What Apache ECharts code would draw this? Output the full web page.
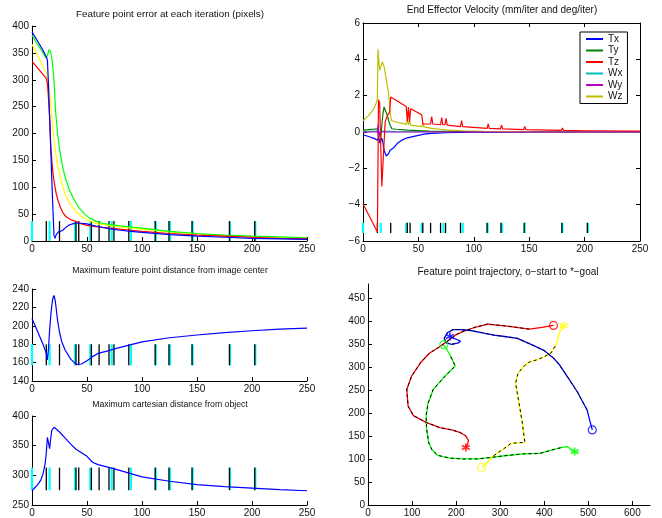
<!DOCTYPE html>
<html><head><meta charset="utf-8">
<script src="https://cdn.jsdelivr.net/npm/echarts@6/dist/echarts.min.js"></script>
<style>html,body{margin:0;padding:0;background:#fff}#c{width:662px;height:518px}</style>
</head><body><div id="c"></div>
<script>
// ---------- Panel 1: feature point error (pixels) per iteration ----------
const errBlue = [[0,389],[5,372],[10,355],[13,342],[14,337],[15,290],[16,230],[17,175],[18,115],[19,60],[20,10],[21,5],[22,12],[24,17],[26,18],[28,20],[30,24],[33,29],[37,32],[40,33],[45,33],[50,32],[55,29],[60,27],[70,23],[80,20],[90,18],[100,16],[125,12],[150,9],[175,7],[200,5],[225,4],[250,3]];
const errGreen = [[0,383],[5,366],[10,350],[13,340],[14,345],[15.5,356],[17,352],[18.5,333],[20,300],[21.5,240],[23,205],[25,172],[28,136],[31,113],[34,95],[38,78],[43,61],[48,50],[52,43],[58,37],[64,33],[70,31],[80,28],[90,26],[100,24],[125,18],[150,14],[175,11],[200,9],[225,7.5],[250,6]];
const errRed = [[0,334],[5,322],[10,310],[13,302],[14,293],[15,265],[16,232],[17,178],[18,150],[19,127],[20,112],[22,88],[24,73],[26,62],[28,53],[31,45],[35,40],[40,36],[45,32],[50,29],[60,26],[70,24],[80,22],[90,20],[100,18],[125,14],[150,11],[175,9],[200,7],[225,5],[250,4]];
const errYellow = [[0,366],[5,345],[10,325],[13,312],[14,305],[15,290],[16,277],[18,232],[20,190],[22,157],[24,133],[27,108],[30,88],[35,68],[40,55],[45,46],[50,39],[55,35],[60,32],[70,29],[80,26],[90,24],[100,22],[125,17],[150,13],[175,10],[200,8],[225,6.5],[250,5]];

// ---------- Panel 2: end effector velocity ----------
const velTx = [[0,-0.15],[5,-0.25],[10,-0.35],[13,-0.45],[14,-0.3],[15,-0.6],[16,-0.7],[17,-0.35],[18,-0.6],[19,-1.0],[21,-1.32],[23,-1.2],[24.5,-1.0],[25.5,-1.1],[28,-0.85],[31,-0.62],[35,-0.45],[40,-0.32],[46,-0.24],[55,-0.12],[62,-0.08],[75,-0.04],[100,-0.01],[250,0]];
const velTy = [[0,0.1],[5,0.13],[10,0.16],[13,0.18],[14,-0.3],[15,-0.6],[16,-0.4],[17,0.4],[18,1.0],[19,1.38],[20,1.3],[22,0.9],[24,0.45],[26,0.18],[30,0.15],[40,0.1],[60,0.05],[80,0.03],[120,0.01],[250,0]];
const velTz = [[0,-3.95],[13,-5.5],[14,1.78],[15,1.6],[17,-3.0],[19,-0.6],[20,0.55],[22,0.9],[24,1.1],[25,1.93],[39,1.4],[40,0.6],[41,1.38],[42,0.55],[43,1.28],[53,0.95],[54,0.45],[61,0.44],[62,0.85],[63,0.44],[70,0.4],[71,0.8],[72,0.4],[74,0.4],[75,0.75],[76,0.38],[88,0.3],[89,0.62],[90,0.3],[112,0.2],[113,0.45],[114,0.2],[124,0.17],[125,0.38],[126,0.17],[145,0.13],[146,0.3],[147,0.13],[179,0.09],[180,0.22],[181,0.09],[202,0.07],[203,0.18],[204,0.07],[250,0.05]];
const velWx = [[0,0.02],[13,0.05],[14,-0.1],[16,0.05],[30,0.02],[250,0]];
const velWy = [[0,0],[13,0],[13.5,0.4],[14.5,-0.3],[15,0],[250,0]];
const velWz = [[0,0.62],[5,0.9],[10,1.3],[12,1.6],[13,1.8],[13.5,4.55],[15,3.4],[16,3.5],[17.5,3.85],[19,3.6],[21,2.9],[23,2.2],[25,0.8],[26,0.62],[30,0.55],[39,0.42],[40,0.7],[41,0.4],[42,0.6],[43,0.38],[53,0.3],[54,0.5],[55,0.28],[62,0.2],[70,0.15],[75,0.12],[90,0.07],[110,0.03],[150,0.01],[250,0]];
const velNames = ['Tx','Ty','Tz','Wx','Wy','Wz'];

// ---------- Panel 3: max feature point distance from image centre ----------
const distCenter = [[0,208],[5,194],[10,180],[13,170],[14,163],[15,175],[16,195],[17,210],[18,222],[19,230],[20,233],[21,228],[22,219],[23,208],[25,193],[27,183],[30,174],[35,164],[40,158],[45,158.5],[50,162],[55,166.5],[60,170],[70,173],[75,175],[90,179.5],[100,182.5],[125,187],[150,190],[175,192.5],[200,194.6],[225,196.4],[250,197.5]];

// ---------- Panel 4: max cartesian distance from object ----------
const distObject = [[0,274],[5,284],[8,292],[10,302],[12,320],[13,338],[14,364],[15,355],[16,345],[17,362],[18,376],[20,381],[22,378],[25,373],[30,363],[35,353],[40,344],[45,338],[50,332],[55,322],[60,318],[75,311],[100,297.5],[125,290],[150,284.5],[175,281],[200,278.5],[225,276],[250,274]];

// ---------- event marks (iterations) ----------
const blackMarks = [13,25,40,42.5,54,61,70,74.5,88,112,124.5,145.5,179.5,202.5];
const cyanMarks = [0,16,39,53,72.5,90,112.5,125.5,146,180,203];
const markRangeErr = [0,37];
const markRangeVel = [-5.56,-5.0];
const markRangeCenter = [157,180];
const markRangeObject = [275,313];

// ---------- Panel 5: feature point trajectories (image px) ----------
const trajRed = [[421,390],[395,386],[366,382],[320,388],[272,393],[240,385],[216,377],[200,370],[186,360],[160,342],[140,330],[120,310],[99,280],[88,251],[91,215],[103,194],[133,179],[163,168],[190,163],[208,158],[222,150],[228,140],[226,132],[222,125]];
const trajGreen = [[172,348],[178,340],[188,322],[198,302],[175,280],[148,251],[136,220],[132,194],[133,165],[138,135],[145,120],[158,108],[185,102],[216,100],[250,100],[276,103],[310,107],[352,111],[390,112],[412,118],[440,125],[452,127],[462,120],[469,116]];
const trajYellow = [[258,82],[272,94],[285,107],[305,120],[325,134],[356,136],[350,180],[343,220],[335,264],[340,285],[352,300],[365,310],[385,316],[400,322],[415,330],[428,350],[432,365],[436,378],[444,390]];
const trajBlue = [[509,163],[503,185],[497,207],[485,228],[475,246],[455,275],[435,304],[420,320],[399,336],[370,349],[339,362],[310,366],[286,369],[260,374],[233,379],[210,381],[193,381],[180,374],[173,362],[178,352],[190,349],[205,352],[210,356],[200,360],[186,366]];

const FONT = '"Liberation Sans", Helvetica, Arial, sans-serif';
const minus = v => String(v).replace('-', '\u2212');

function xA(grid, min, max, interval, extra) {
  return Object.assign({
    type: 'value', gridIndex: grid, min, max, interval,
    axisLine: {show: true, onZero: false, lineStyle: {color: '#000', width: 1}},
    axisTick: {show: true, inside: true, length: 4, lineStyle: {color: '#000'}},
    splitLine: {show: false},
    axisLabel: {color: '#111', fontSize: 10, fontFamily: FONT, margin: 3, formatter: minus}
  }, extra || {});
}
function line(data, color, idx, name, width) {
  const s = {type: 'line', data, xAxisIndex: idx, yAxisIndex: idx, symbol: 'none', showSymbol: false,
    lineStyle: {color, width: width || 1.2}, itemStyle: {color}, animation: false, silent: true, z: 3};
  if (name) s.name = name;
  return s;
}
function marks(xs, range, color, width, idx) {
  return {type: 'custom', xAxisIndex: idx, yAxisIndex: idx,
    data: xs.map(x => [x, range[0], range[1]]), encode: {x: 0, y: [1, 2]},
    renderItem: (p, api) => {
      const a = api.coord([api.value(0), api.value(1)]);
      const b = api.coord([api.value(0), api.value(2)]);
      return {type: 'line', shape: {x1: a[0], y1: a[1], x2: b[0], y2: b[1]}, style: {stroke: color, lineWidth: width}};
    }, animation: false, silent: true, z: 2};
}
function markPair(range, idx) {
  return [marks(cyanMarks, range, '#00ffff', 2.2, idx), marks(blackMarks, range, '#000', 1.3, idx)];
}
const starPath = 'path://M0,-5L0,5M-4.33,-2.5L4.33,2.5M-4.33,2.5L4.33,-2.5';
function traj(data, color) {
  return [
    line(data, color, 4, null, 1.3),
    Object.assign(line(data.slice(2, -3), '#000', 4, null, 1), {lineStyle: {color: '#000', width: 1, type: [3, 3]}, z: 4}),
    {type: 'scatter', xAxisIndex: 4, yAxisIndex: 4, data: [data[0]], symbol: 'circle', symbolSize: 8,
      itemStyle: {color: 'rgba(0,0,0,0)', borderColor: color, borderWidth: 1.2}, animation: false, silent: true, z: 5},
    {type: 'scatter', xAxisIndex: 4, yAxisIndex: 4, data: [data[data.length - 1]], symbol: starPath, symbolSize: 8,
      itemStyle: {color: 'rgba(0,0,0,0)', borderColor: color, borderWidth: 1.8}, animation: false, silent: true, z: 5}
  ];
}

const chart = echarts.init(document.getElementById('c'), null, {renderer: 'canvas'});
const titleStyle = (text, x, y, size) => ({type: 'text', x, y, style: {text, font: size + 'px ' + FONT, fill: '#111', textAlign: 'center', textVerticalAlign: 'middle'}});

chart.setOption({
  backgroundColor: '#fff',
  animation: false,
  grid: [
    {left: 32, top: 26, width: 275, height: 215},
    {left: 363, top: 23, width: 277, height: 218},
    {left: 32, top: 289, width: 275, height: 92},
    {left: 32, top: 416, width: 275, height: 91},
    {left: 368, top: 284, width: 282, height: 222}
  ],
  xAxis: [
    xA(0, 0, 250, 50),
    xA(1, 0, 250, 50),
    xA(2, 0, 250, 50),
    xA(3, 0, 250, 50),
    xA(4, 0, 640, 100, {axisLabel: {color: '#111', fontSize: 10, fontFamily: FONT, margin: 3, showMaxLabel: false}}),
    xA(1, 0, 250, 50, {position: 'top', axisLabel: {show: false}})
  ],
  yAxis: [
    xA(0, 0, 400, 50),
    xA(1, -6, 6, 2),
    xA(2, 140, 240, 20),
    xA(3, 250, 400, 50),
    xA(4, 0, 480, 50, {axisLabel: {color: '#111', fontSize: 10, fontFamily: FONT, margin: 3, showMaxLabel: false}}),
    xA(1, -6, 6, 2, {position: 'right', axisLabel: {show: false}})
  ],
  legend: {
    data: velNames, left: 580, top: 32, orient: 'vertical', icon: 'rect', itemWidth: 17, itemHeight: 2,
    itemGap: 1.5, padding: [2, 5, 2, 6], borderColor: '#000', borderWidth: 1, backgroundColor: '#fff',
    textStyle: {fontSize: 10, fontFamily: FONT, color: '#111', lineHeight: 10}, selectedMode: false
  },
  graphic: [
    titleStyle('Feature point error at each iteration (pixels)', 170, 14, 9.8),
    titleStyle('End Effector Velocity (mm/iter and deg/iter)', 502, 10, 10),
    titleStyle('Maximum feature point distance from image center', 170, 271, 8.7),
    titleStyle('Maximum cartesian distance from object', 170, 405, 8.7),
    titleStyle('Feature point trajectory, o\u2212start to *\u2212goal', 508, 272, 10)
  ],
  series: [
    ...markPair(markRangeErr, 0),
    line(errYellow, '#ffff00', 0), line(errGreen, '#00ff00', 0), line(errRed, '#ff0000', 0), line(errBlue, '#0000ff', 0),
    ...markPair(markRangeVel, 1),
    line(velWx, '#00bfbf', 1, 'Wx'), line(velTy, '#008000', 1, 'Ty'), line(velTx, '#0000ff', 1, 'Tx'),
    line(velWz, '#bfbf00', 1, 'Wz'), line(velTz, '#ff0000', 1, 'Tz'), line(velWy, '#bf00bf', 1, 'Wy'),
    ...markPair(markRangeCenter, 2),
    line(distCenter, '#0000ff', 2),
    ...markPair(markRangeObject, 3),
    line(distObject, '#0000ff', 3),
    ...traj(trajRed, '#ff0000'), ...traj(trajGreen, '#00ff00'), ...traj(trajYellow, '#ffff00'), ...traj(trajBlue, '#0000ff')
  ]
});
</script></body></html>
